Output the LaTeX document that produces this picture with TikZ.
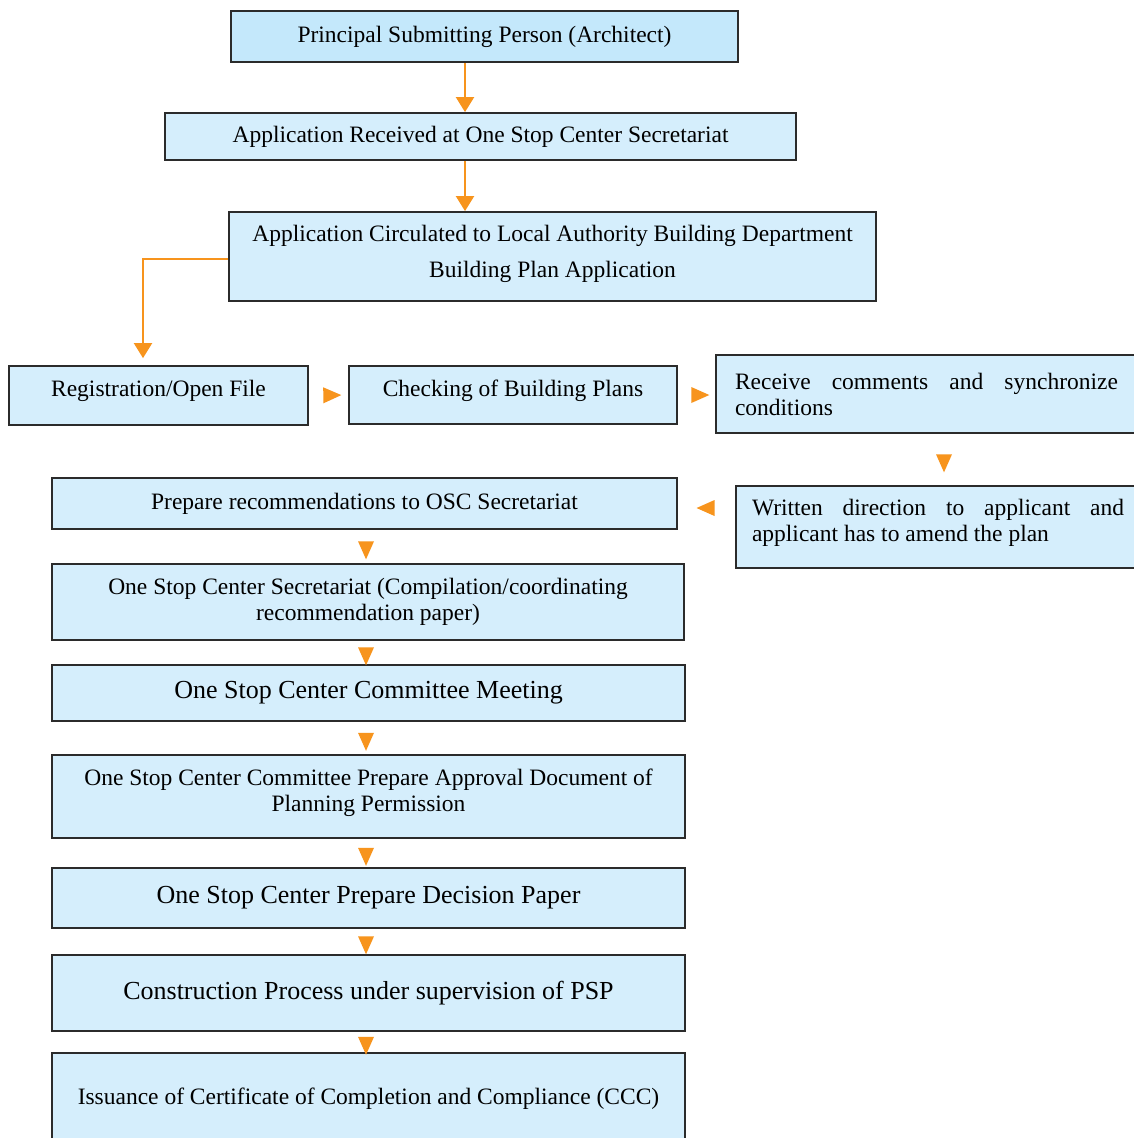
\documentclass[tikz,border=0pt]{standalone}
\usepackage{fontspec}
\setmainfont{Liberation Serif}
\usetikzlibrary{arrows.meta,shapes.geometric}

\definecolor{boxfill}{HTML}{D5EEFC}
\definecolor{topfill}{HTML}{C4E8FB}
\definecolor{flowor}{HTML}{F7941D}
\definecolor{edge}{HTML}{2B2B2B}

% no hyphenation inside the boxes
\newcommand\nohyphens{\hyphenpenalty=10000\relax\exhyphenpenalty=10000\relax}

\tikzset{
  box/.style={draw=edge, line width=1.8pt, fill=boxfill, rectangle, inner sep=0pt,
              font=\fontsize{23.5}{26}\selectfont\nohyphens,
              align=center},
  bigtext/.style={font=\fontsize{26}{29}\selectfont\nohyphens},
  flow/.style={draw=flowor, line width=2pt, -{Triangle[length=15pt,width=18pt]}},
  tri/.style={fill=flowor, isosceles triangle, isosceles triangle stretches,
              minimum width=16pt, minimum height=18pt, inner sep=0pt,
              sloped, allow upside down}
}

\begin{document}
\begin{tikzpicture}[x=1pt,y=-1pt]
\clip (0,0) rectangle (1134,1138);
\fill[white] (0,0) rectangle (1134,1138);

% top of the chain
\node[box, fill=topfill, minimum width=507pt, minimum height=51pt] (psp) at (484.5,36.5)
  {Principal Submitting Person (Architect)};
\node[box, minimum width=631pt, minimum height=47pt] (recv) at (480.5,136.5)
  {Application Received at One Stop Center Secretariat};
\node[box, minimum width=647pt, minimum height=89pt, text depth=10pt] (circ) at (552.5,256.5)
  {Application Circulated to Local Authority Building Department\\[10pt]Building Plan Application};

% middle row
\node[box, minimum width=299pt, minimum height=59pt, text height=16pt, text depth=14pt] (reg) at (158.5,395.5)
  {Registration/Open File};
\node[box, minimum width=328pt, minimum height=58pt, text height=16pt, text depth=14pt] (chk) at (513,395)
  {Checking of Building Plans};
\node[box, align=justify, text width=383pt, inner xsep=19pt, minimum height=78pt] (cmt) at (926.5,394)
  {Receive comments and synchronize conditions};
\node[box, align=justify, text width=372pt, inner xsep=16pt, minimum height=82pt, text depth=40pt] (dir) at (938,527)
  {\rightskip=5pt\relax Written direction to applicant and applicant has to amend the plan};

% left column
\node[box, minimum width=625pt, minimum height=51pt] (rec) at (364.5,503.5)
  {Prepare recommendations to OSC Secretariat};
\node[box, minimum width=632pt, minimum height=76pt] (sec) at (368,602)
  {One Stop Center Secretariat (Compilation/coordinating\\recommendation paper)};
\node[box, bigtext, minimum width=633pt, minimum height=56pt] (meet) at (368.5,693)
  {One Stop Center Committee Meeting};
\node[box, minimum width=633pt, minimum height=83pt, text depth=12pt] (appr) at (368.5,796.5)
  {One Stop Center Committee Prepare Approval Document of\\Planning Permission};
\node[box, bigtext, minimum width=633pt, minimum height=60pt] (dec) at (368.5,898)
  {One Stop Center Prepare Decision Paper};
\node[box, bigtext, minimum width=633pt, minimum height=76pt] (cons) at (368.5,993)
  {Construction Process under supervision of PSP};
\node[box, minimum width=633pt, minimum height=92pt] (ccc) at (368.5,1099)
  {Issuance of Certificate of Completion and Compliance (CCC)};

% guide columns and rows for the connectors
\coordinate (xa) at (465,0);
\coordinate (xb) at (143,0);
\coordinate (xc) at (944,0);
\coordinate (xd) at (366,0);
\coordinate (ya) at (0,259);
\coordinate (yb) at (0,508);

% connectors with shafts
\draw[flow] (psp.south -| xa) -- (recv.north -| xa);
\draw[flow] (recv.south -| xa) -- (circ.north -| xa);
\draw[flow, shorten >=7pt] (circ.west |- ya) -| (reg.north -| xb);

% head-only connectors
\path (reg.east) -- node[tri] {} (chk.west);
\path (chk.east) -- node[tri] {} (cmt.west |- chk.east);
\path (cmt.south -| xc) -- node[tri] {} (dir.north -| xc);
\path (dir.west |- yb) -- node[tri, pos=0.45] {} (rec.east |- yb);
\path (rec.south -| xd) -- node[tri] {} (sec.north -| xd);
\path (sec.south -| xd) -- node[tri] {} (meet.north -| xd);
\path (meet.south -| xd) -- node[tri] {} (appr.north -| xd);
\path (appr.south -| xd) -- node[tri] {} (dec.north -| xd);
\path (dec.south -| xd) -- node[tri] {} (cons.north -| xd);
\path (cons.south -| xd) -- node[tri] {} (ccc.north -| xd);
\end{tikzpicture}
\end{document}
